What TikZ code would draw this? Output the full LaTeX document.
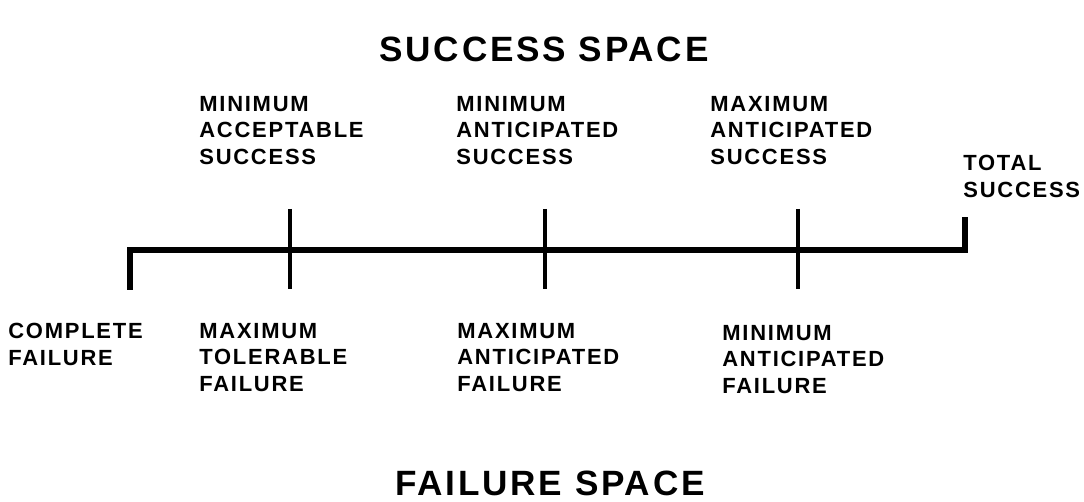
\documentclass[tikz,border=0pt]{standalone}
\usepackage{fontspec}
\newfontfamily\spacedfont{Liberation Sans}[LetterSpace=8]
\newfontfamily\titlefont{Liberation Sans}[LetterSpace=8]
\usetikzlibrary{positioning}

\begin{document}
\begin{tikzpicture}[x=0.02cm,y=-0.02cm,
    marktext/.style={anchor=north west, inner sep=0pt, align=left,
      font=\spacedfont\bfseries\fontsize{12.5}{15.1}\selectfont},
    spacetitle/.style={anchor=north, inner sep=0pt,
      font=\titlefont\bfseries\fontsize{20}{23}\selectfont},
    axisline/.style={line width=3.4pt, line join=miter},
    tickline/.style={line width=2.1pt}
    ]

    \useasboundingbox (0,0) rectangle (1084,502);

    % the two spaces
    \node[spacetitle] (succ) at (544,37) {SUCCESS SPACE};
    \node[spacetitle] (fail) at (550,471) {FAILURE SPACE};

    % main scale
    \coordinate (cf end) at (130,290);
    \coordinate (cf corner) at (130,250);
    \coordinate (ts corner) at (965,250);
    \coordinate (ts end) at (965,217);
    \draw[axisline] (cf end) -- (cf corner) -- (ts corner) -- (ts end);

    \foreach \x/\n in {290/mt, 545/ma, 798/xa} {
        \coordinate (\n top) at (\x,209);
        \coordinate (\n bot) at (\x,289);
        \draw[tickline] (\n top) -- (\n bot);
    }

    % success side
    \node[marktext] (mas) at (199,96) {MINIMUM\\ACCEPTABLE\\SUCCESS};
    \node[marktext] (mans) at (456,96) {MINIMUM\\ANTICIPATED\\SUCCESS};
    \node[marktext] (xas) at (710,96) {MAXIMUM\\ANTICIPATED\\SUCCESS};
    \node[marktext] (ts) at (963,155) {TOTAL\\SUCCESS};

    % failure side
    \node[marktext] (cf) at (8,323) {COMPLETE\\FAILURE};
    \node[marktext] (mtf) at (199,323) {MAXIMUM\\TOLERABLE\\FAILURE};
    \node[marktext] (maf) at (457,323) {MAXIMUM\\ANTICIPATED\\FAILURE};
    \node[marktext] (naf) at (722,325) {MINIMUM\\ANTICIPATED\\FAILURE};

\end{tikzpicture}
\end{document}
